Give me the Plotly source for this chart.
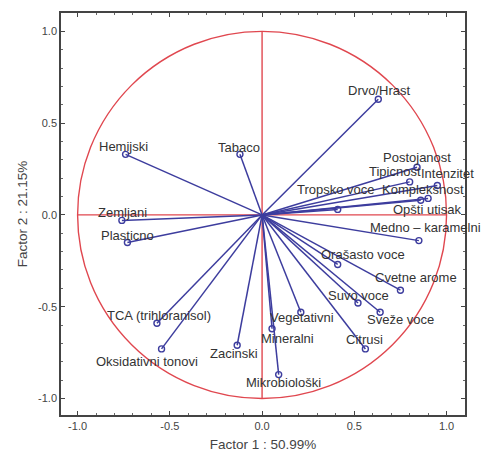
import plotly.graph_objects as go

# ---- data ----
names = ["Drvo/Hrast", "Postojanost", "Tipicnost", "Intenzitet", "Kompleksnost",
         "Opšti utisak", "Tropsko voce", "Medno – karamelni", "Orašasto voce",
         "Cvetne arome", "Suvo voce", "Sveže voce", "Citrusi", "Vegetativni",
         "Mineralni", "Mikrobiološki", "Zacinski", "Oksidativni tonovi",
         "TCA (trihloranisol)", "Plasticno", "Zemljani", "Hemijski", "Tabaco"]
factor1 = [0.63, 0.84, 0.80, 0.95, 0.90, 0.86, 0.41, 0.85, 0.41, 0.75, 0.52, 0.64,
           0.56, 0.21, 0.054, 0.09, -0.135, -0.545, -0.57, -0.73, -0.76, -0.74, -0.12]
factor2 = [0.63, 0.26, 0.18, 0.16, 0.09, 0.08, 0.03, -0.14, -0.27, -0.41, -0.48, -0.53,
           -0.73, -0.53, -0.62, -0.87, -0.71, -0.73, -0.59, -0.15, -0.03, 0.33, 0.33]
tick_vals = [-1.0, -0.5, 0.0, 0.5, 1.0]
tick_text = ["-1.0", "-0.5", "0.0", "0.5", "1.0"]

# label offsets in pixels (dx, dy) relative to each marker
label_offsets = [(1, 9), (0, 10), (-15, 10), (10, 12), (-5, 9),
                 (6, -9), (-2, 20), (7, 13), (25, 10),
                 (16, 13), (0, 8), (20, -7), (-1, 9), (1, -5),
                 (15, -10), (5, -8), (-3, -8), (-15, -13),
                 (2, 8), (0, 7), (1, 8), (-2, 8), (-1, 7)]

line_x, line_y = [], []
for x, y in zip(factor1, factor2):
    line_x += [0, x, None]
    line_y += [0, y, None]

fig = go.Figure()
blue = "#3d3d9e"
fig.add_trace(go.Scatter(x=line_x, y=line_y, mode="lines",
                         line=dict(color=blue, width=1.5), hoverinfo="skip"))
fig.add_trace(go.Scatter(x=factor1, y=factor2, mode="markers",
                         marker=dict(symbol="circle-open", size=6, color=blue,
                                     line=dict(width=1.4, color=blue)),
                         text=names))

red = "#e0474f"
fig.add_shape(type="circle", xref="x", yref="y", x0=-1, y0=-1, x1=1, y1=1,
              line=dict(color=red, width=1.4), layer="below")
fig.add_shape(type="line", xref="x", yref="y", x0=-1, y0=0, x1=1, y1=0,
              line=dict(color=red, width=1.4), layer="below")
fig.add_shape(type="line", xref="x", yref="y", x0=0, y0=-1, x1=0, y1=1,
              line=dict(color=red, width=1.4), layer="below")

for n, x, y, (dx, dy) in zip(names, factor1, factor2, label_offsets):
    fig.add_annotation(x=x, y=y, text=n, showarrow=False, xshift=dx, yshift=dy,
                       font=dict(family="Arial, Liberation Sans", size=13, color="#333333"))

axis_common = dict(range=[-1.09, 1.1], tickvals=tick_vals, ticktext=tick_text,
                   ticks="inside", ticklen=4, tickcolor="#444", showgrid=False,
                   zeroline=False, showline=True, linecolor="#444", linewidth=1.5,
                   mirror="allticks", automargin=False,
                   minor=dict(dtick=0.1, ticks="inside", ticklen=2, tickcolor="#666"),
                   tickfont=dict(family="Arial, Liberation Sans", size=11, color="#444"))

fig.update_layout(
    width=482, height=461,
    margin=dict(l=61, r=17, t=13, b=46),
    paper_bgcolor="white", plot_bgcolor="white",
    showlegend=False,
    xaxis=dict(**axis_common,
               title=dict(text="Factor 1 : 50.99%", standoff=9,
                          font=dict(family="Arial, Liberation Sans", size=13.5, color="#444"))),
    yaxis=dict(**axis_common,
               title=dict(text="Factor 2 : 21.15%", standoff=7,
                          font=dict(family="Arial, Liberation Sans", size=13.5, color="#444"))),
)
fig.write_html("out.html", config={"displayModeBar": False},
               post_script="document.body.style.margin='0';document.body.style.overflow='hidden';")
